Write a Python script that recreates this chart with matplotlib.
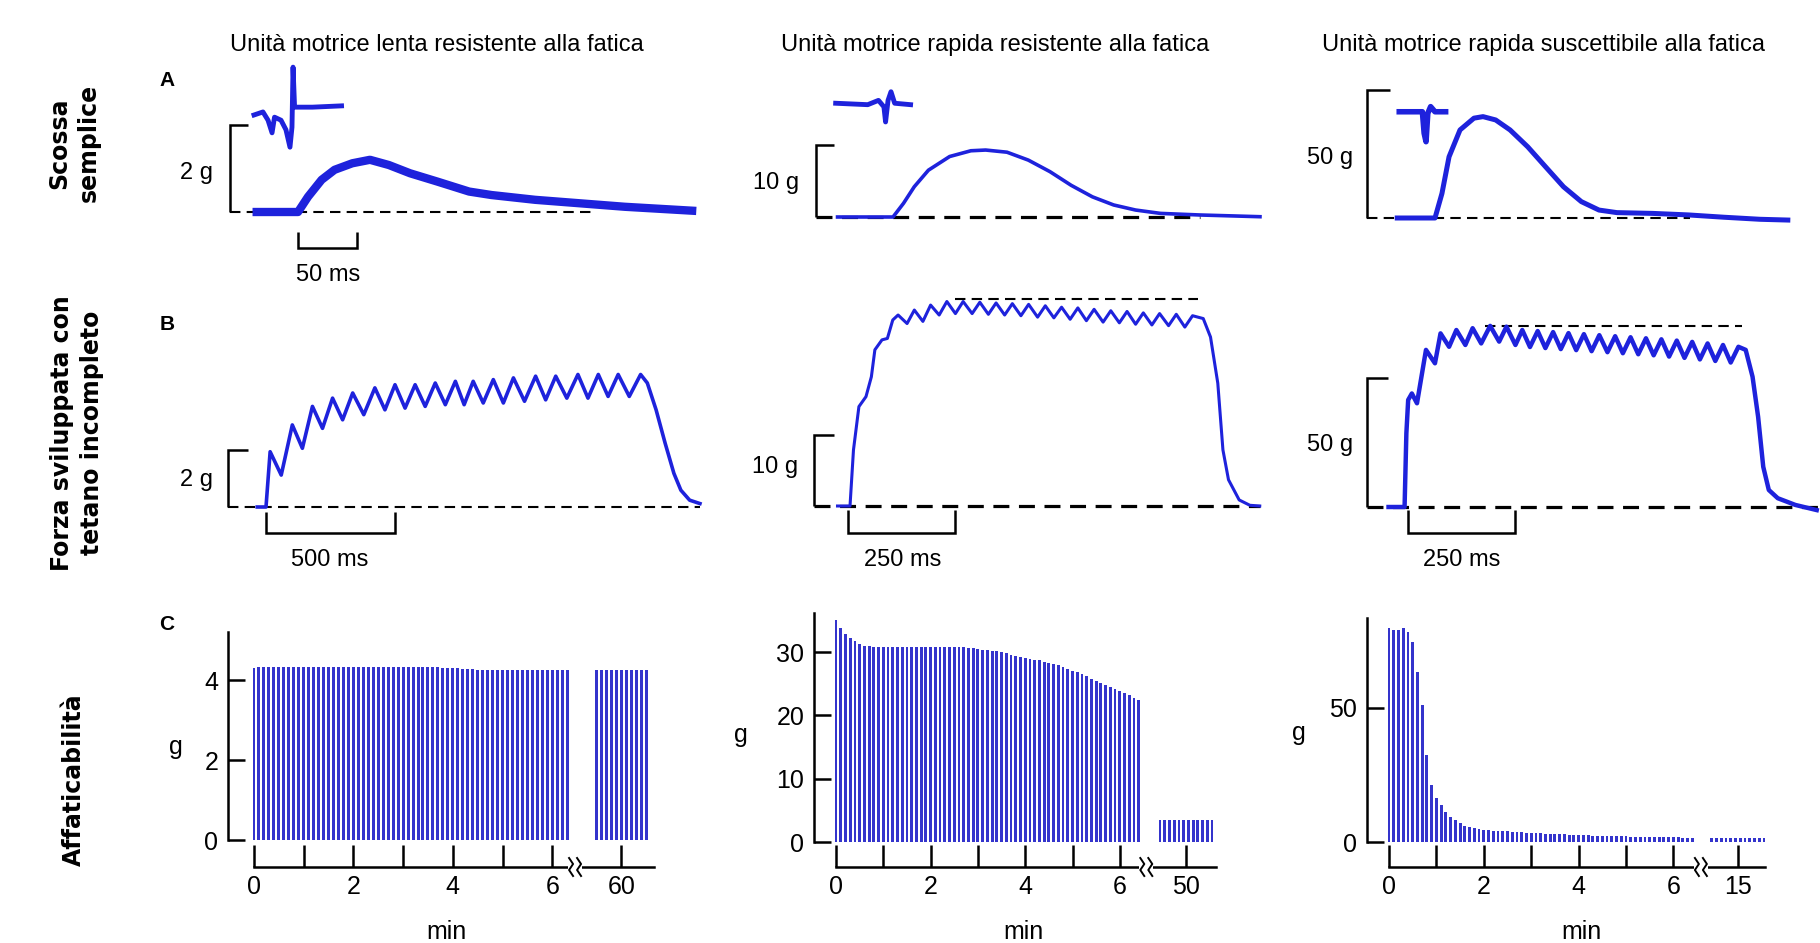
import numpy as np
import matplotlib
matplotlib.use("Agg")
import matplotlib.pyplot as plt

plt.rcParams["font.family"] = ["Liberation Sans", "DejaVu Sans"]

# ---- data ----
titles = [
    "Unità motrice lenta resistente alla fatica",
    "Unità motrice rapida resistente alla fatica",
    "Unità motrice rapida suscettibile alla fatica",
]
row_labels = ["Scossa\nsemplice", "Forza sviluppata con\ntetano incompleto", "Affaticabilità"]

# A: single twitch (t in ms, force in g)
a1_t = [-35, 0, 8.5, 20, 31, 46, 61, 77, 95, 118, 145, 164, 201, 239, 277, 315, 334]
a1_f = [0, 0, 0.35, 0.74, 0.97, 1.12, 1.2, 1.08, 0.89, 0.70, 0.47, 0.39, 0.28, 0.20, 0.12, 0.06, 0.03]
a1_ap_t = [-37.3, -29.7, -25.4, -22, -19.9, -14.4, -10.2, -6.8, -5.1, -4.2, -2.9, 12.3, 36.9]
a1_ap_f = [2.23, 2.30, 2.11, 1.82, 2.18, 2.11, 1.89, 1.49, 1.95, 3.33, 2.41, 2.41, 2.44]

a2_t = [-47, 0, 8.9, 18, 30, 48, 66, 78.5, 96.6, 114.7, 133, 151, 169, 187, 205.5, 226.7, 260, 290, 311]
a2_f = [0, 0, 1.9, 4.2, 6.5, 8.4, 9.2, 9.3, 9.0, 7.9, 6.3, 4.4, 2.8, 1.67, 0.97, 0.5, 0.28, 0.14, 0.04]
a2_ap_t = [-48.6, -21.4, -12.3, -7.7, -6.3, -4.2, -1.7, 1.4, 14.9]
a2_ap_f = [15.8, 15.6, 16.2, 15.3, 13.2, 16.2, 17.4, 15.8, 15.6]

a3_t = [-32, 0, 5.9, 11.9, 21.2, 33, 40.7, 51.4, 63.6, 78.6, 93.7, 108.9, 124, 139, 154.2,
        184.4, 214.7, 244.9, 275.3, 299]
a3_f = [0, 0, 9.6, 23.9, 34.4, 39, 39.6, 38.3, 34.4, 27.8, 20, 12.2, 6.4, 3.1, 2.1,
        1.8, 1.2, 0.3, -0.5, -0.8]
a3_ap_t = [-30.3, -10.7, -9.2, -7.6, -6.1, -3.7, 0, 9]
a3_ap_f = [41.5, 41.5, 33.1, 29.8, 40.9, 43.5, 41.5, 41.5]

# B: incomplete tetanus (onset, alternating peaks/troughs, relaxation)
b1_onset_t = [-34, 0]
b1_onset_f = [0, 0]
b1_peak_t = [16, 102, 180, 258, 336, 422, 500, 578, 656, 734, 803, 881, 959, 1045, 1123, 1209, 1288, 1365, 1452]
b1_peak_f = [1.94, 2.88, 3.53, 3.82, 4.0, 4.18, 4.29, 4.29, 4.35, 4.41, 4.41, 4.47, 4.53, 4.59, 4.59,
             4.65, 4.65, 4.65, 4.65]
b1_trough_t = [59, 141, 219, 297, 379, 461, 539, 617, 695, 768, 842, 920, 1002, 1084, 1166, 1248, 1326, 1408]
b1_trough_f = [1.12, 2.06, 2.76, 3.06, 3.24, 3.41, 3.47, 3.53, 3.59, 3.59, 3.65, 3.65, 3.71, 3.76,
               3.82, 3.82, 3.88, 3.88]
b1_decay_t = [1478, 1512, 1547, 1581, 1608, 1642, 1682]
b1_decay_f = [4.35, 3.41, 2.24, 1.18, 0.59, 0.24, 0.12]

b2_onset_t = [-24.5, 4.7, 12.8, 25.5, 42, 54.6, 62.8, 79.4, 92, 104.6]
b2_onset_f = [0, 0, 7.9, 14.0, 15.4, 18.2, 22.0, 23.4, 23.6, 26.2]
b2_peak_t = [117, 155, 193, 231, 269, 308, 346, 384, 422, 461, 499, 537, 575, 614, 652, 690, 728, 767, 805]
b2_peak_f = [26.9, 27.6, 28.3, 28.8, 28.8, 28.7, 28.6, 28.5, 28.4, 28.2, 28.0, 27.9, 27.7, 27.5,
             27.4, 27.2, 27.1, 27.0, 26.8]
b2_trough_t = [138, 175, 213, 251, 290, 328, 366, 404, 443, 481, 519, 557, 596, 634, 672, 710, 749, 787]
b2_trough_f = [25.7, 26.0, 26.9, 27.1, 27.1, 27.0, 26.9, 26.8, 26.6, 26.5, 26.3, 26.1, 25.9, 25.8,
               25.6, 25.5, 25.4, 25.2]
b2_decay_t = [830, 847, 864, 876, 889, 914, 939, 962]
b2_decay_f = [26.4, 23.8, 17.3, 7.9, 3.7, 0.85, 0.1, 0.0]
b2_plateau = 29.2

b3_onset_t = [-45.5, -8, -3.8, 0.4]
b3_onset_f = [0, 0, 28.6, 41.5]
b3_peak_t = [9, 42, 76, 113, 151, 192, 230, 267, 303, 339, 375, 411, 447, 484, 520, 556, 592, 628,
             664, 700, 736, 772]
b3_peak_f = [44.0, 60.9, 67.3, 68.6, 69.3, 70.2, 69.9, 68.6, 68.2, 67.8, 67.4, 67.0, 66.6, 66.2,
             65.8, 65.4, 65.0, 64.5, 64.0, 63.4, 62.8, 62.1]
b3_trough_t = [21, 63, 96, 134, 171, 213, 251, 285, 321, 357, 393, 429, 466, 502, 538, 574, 610,
               646, 682, 718, 754]
b3_trough_f = [40.2, 55.7, 62.1, 62.8, 63.4, 64.1, 62.8, 62.0, 61.6, 61.2, 60.8, 60.4, 60.0, 59.6,
               59.2, 58.8, 58.3, 57.8, 57.2, 56.6, 56.0]
b3_decay_t = [789, 805, 818, 830, 843, 864, 905, 955]
b3_decay_f = [60.9, 50.5, 35, 15.6, 6.6, 3.4, 0.8, -1.2]
b3_plateau = 70.2

# C: fatigue, one contraction every 0.1 min (force in g)
stim_min = 0.1
c1_main = [4.30, 4.33, 4.33, 4.33, 4.33, 4.33, 4.33, 4.33, 4.33, 4.33,
           4.33, 4.33, 4.33, 4.32, 4.32, 4.32, 4.32, 4.32, 4.32, 4.32,
           4.32, 4.32, 4.32, 4.32, 4.32, 4.32, 4.33, 4.33, 4.33, 4.33,
           4.33, 4.33, 4.33, 4.33, 4.33, 4.33, 4.32, 4.32, 4.30, 4.30,
           4.30, 4.30, 4.28, 4.28, 4.28, 4.26, 4.26, 4.26, 4.26, 4.26,
           4.26, 4.26, 4.26, 4.26, 4.26, 4.26, 4.26, 4.26, 4.26, 4.25,
           4.25, 4.25, 4.25, 4.25]
c1_late = [4.25, 4.25, 4.25, 4.25, 4.25, 4.25, 4.25, 4.25, 4.25, 4.25, 4.25]
c1_late_min = 60

c2_main = [35.0, 33.8, 32.8, 32.2, 31.7, 31.3, 31.0, 30.9, 30.8, 30.8,
           30.8, 30.8, 30.8, 30.8, 30.8, 30.8, 30.8, 30.8, 30.8, 30.8,
           30.8, 30.8, 30.8, 30.8, 30.8, 30.8, 30.8, 30.8, 30.7, 30.6,
           30.5, 30.4, 30.3, 30.2, 30.1, 30.0, 29.8, 29.6, 29.4, 29.2,
           29.0, 28.9, 28.8, 28.7, 28.5, 28.3, 28.1, 27.9, 27.6, 27.3,
           27.0, 26.8, 26.5, 26.2, 25.8, 25.5, 25.1, 24.8, 24.5, 24.2,
           23.9, 23.5, 23.2, 22.8, 22.4]
c2_late = [3.4, 3.4, 3.4, 3.4, 3.4, 3.4, 3.4, 3.4, 3.4, 3.4, 3.4, 3.4]
c2_late_min = 50

c3_main = [79.4, 78.8, 78.8, 79.4, 78.2, 74.5, 63.3, 50.9, 32.3, 21.2,
           16.4, 13.8, 11.3, 9.4, 8.2, 7.0, 5.9, 5.5, 5.1, 4.7,
           4.5, 4.3, 4.2, 4.2, 4.1, 4.0, 3.9, 3.8, 3.7, 3.5,
           3.4, 3.3, 3.2, 3.1, 3.0, 2.9, 2.9, 2.8, 2.7, 2.7,
           2.6, 2.5, 2.5, 2.4, 2.4, 2.3, 2.3, 2.2, 2.2, 2.1,
           2.1, 2.0, 2.0, 1.9, 1.9, 1.9, 1.8, 1.8, 1.8, 1.7,
           1.7, 1.7, 1.6, 1.6, 1.6]
c3_late = [1.4, 1.4, 1.4, 1.4, 1.4, 1.4, 1.4, 1.4, 1.4, 1.4, 1.4, 1.4]
c3_late_min = 15

# ---- drawing ----
W, H = 1820, 943
BLUE = "#1e22dc"
BAR_BLUE = "#3434cc"

fig = plt.figure(figsize=(W / 100, H / 100), dpi=100)
fig.patch.set_facecolor("white")


def px_axes(box, origin, scale):
    # box in pixels (left, top, right, bottom); origin = pixel of data (0, 0)
    l, t, r, b = box
    x0, y0 = origin
    sx, sy = scale
    ax = fig.add_axes([l / W, 1 - b / H, (r - l) / W, (b - t) / H])
    ax.set_xlim((l - x0) / sx, (r - x0) / sx)
    ax.set_ylim((y0 - b) / sy, (y0 - t) / sy)
    ax.patch.set_visible(False)
    return ax


def label(x, y, s, **kw):
    kw.setdefault("ha", "center")
    kw.setdefault("va", "center")
    fig.text(x / W, 1 - y / H, s, **kw)


def force_bar(ax, x, x_tick, h):
    ax.plot([x_tick, x, x], [h, h, 0], color="black", lw=1.8,
            solid_joinstyle="miter", solid_capstyle="butt")


def time_bar(ax, t1, y_top, y_bot):
    ax.plot([0, 0, t1, t1], [y_top, y_bot, y_bot, y_top], color="black", lw=1.8,
            solid_joinstyle="miter", solid_capstyle="butt")


def baseline(ax, x0, x1, y=0, lw=1.5):
    ax.plot([x0, x1], [y, y], color="black", lw=lw, dashes=(5, 3))


def tetanus(onset_t, onset_f, peak_t, peak_f, trough_t, trough_f, decay_t, decay_f):
    t, f = list(onset_t), list(onset_f)
    for i in range(len(peak_t)):
        t.append(peak_t[i]); f.append(peak_f[i])
        if i < len(trough_t):
            t.append(trough_t[i]); f.append(trough_f[i])
    return t + list(decay_t), f + list(decay_f)


# Row A
ax = px_axes((140, 55, 720, 300), (298, 212), (1.18, 43.5))
ax.axis("off")
baseline(ax, -57.6, 250.8)
force_bar(ax, -57.6, -42.4, 2)
time_bar(ax, 50, -0.46, -0.83)
ax.plot(a1_t, a1_f, color=BLUE, lw=6, solid_joinstyle="round")
ax.plot(a1_ap_t, a1_ap_f, color=BLUE, lw=3.5)

ax = px_axes((730, 55, 1275, 300), (893, 217), (1.18, 7.2))
ax.axis("off")
baseline(ax, -65, 260, lw=2.3)
force_bar(ax, -65, -50, 10)
ax.plot(a2_t, a2_f, color=BLUE, lw=2.6, solid_joinstyle="round")
ax.plot(a2_ap_t, a2_ap_f, color=BLUE, lw=3.5)

ax = px_axes((1290, 55, 1820, 300), (1435, 218), (1.18, 2.56))
ax.axis("off")
baseline(ax, -57.6, 216)
force_bar(ax, -57.6, -38, 50)
ax.plot(a3_t, a3_f, color=BLUE, lw=3.6, solid_joinstyle="round")
ax.plot(a3_ap_t, a3_ap_f, color=BLUE, lw=4)

# Row B
ax = px_axes((140, 300, 720, 590), (266, 507), (0.258, 28.5))
ax.axis("off")
baseline(ax, -147, 1682)
force_bar(ax, -147, -70, 2)
time_bar(ax, 500, -0.18, -0.91)
t, f = tetanus(b1_onset_t, b1_onset_f, b1_peak_t, b1_peak_f, b1_trough_t, b1_trough_f, b1_decay_t, b1_decay_f)
ax.plot(t, f, color=BLUE, lw=2.6)

ax = px_axes((730, 280, 1275, 590), (848, 506), (0.428, 7.1))
ax.axis("off")
baseline(ax, -79.4, 962, lw=2.3)
baseline(ax, 250, 818, y=b2_plateau)
force_bar(ax, -79.4, -32.7, 10)
time_bar(ax, 250, -0.56, -3.8)
t, f = tetanus(b2_onset_t, b2_onset_f, b2_peak_t, b2_peak_f, b2_trough_t, b2_trough_f, b2_decay_t, b2_decay_f)
ax.plot(t, f, color=BLUE, lw=2.2)

ax = px_axes((1290, 280, 1820, 590), (1408, 507), (0.428, 2.58))
ax.axis("off")
baseline(ax, -95.8, 962, lw=2.3)
baseline(ax, 180, 780, y=b3_plateau)
force_bar(ax, -95.8, -46.7, 50)
time_bar(ax, 250, -1.2, -10)
t, f = tetanus(b3_onset_t, b3_onset_f, b3_peak_t, b3_peak_f, b3_trough_t, b3_trough_f, b3_decay_t, b3_decay_f)
ax.plot(t, f, color=BLUE, lw=3.2)


# Row C
def fatigue(box, origin, scale, main, late, late_min, late_pos, break_pos, x_end, y_top, yticks):
    ax = px_axes(box, origin, scale)
    sx, sy = scale
    t_main = np.arange(len(main)) * stim_min
    ax.bar(t_main, main, width=0.06, color=BAR_BLUE, linewidth=0)
    t_late = late_min + (np.arange(len(late)) - (len(late) - 1) / 2) * stim_min
    ax.bar(late_pos + (t_late - late_min), late, width=0.06, color=BAR_BLUE, linewidth=0)
    for side in ("top", "right"):
        ax.spines[side].set_visible(False)
    ax.spines["left"].set_bounds(0, y_top)
    ax.spines["bottom"].set_bounds(0, x_end)
    for side in ("left", "bottom"):
        ax.spines[side].set_linewidth(1.8)
    ax.set_xticks([0, 1, 2, 3, 4, 5, 6, late_pos], ["0", "", "2", "", "4", "", "6", str(late_min)])
    ax.set_yticks(yticks, [str(v) for v in yticks])
    ax.tick_params(axis="x", direction="in", length=15.5, width=1.8, labelsize=18, pad=6)
    ax.tick_params(axis="y", direction="in", length=12.5, width=1.8, labelsize=18, pad=7)
    # axis break
    y0 = ax.get_ylim()[0]
    ax.plot([break_pos - 7 / sx, break_pos + 7 / sx], [y0, y0], color="white", lw=4,
            clip_on=False, zorder=4, solid_capstyle="butt")
    for off in (-4, 4):
        xs = [break_pos + (off + d) / sx for d in (-2, 2, -2, 2)]
        ys = [y0 - d / sy for d in (-9, -3, 3, 9)]
        ax.plot(xs, ys, color="black", lw=1.4, clip_on=False, zorder=5)
    return ax


fatigue((228, 600, 690, 867), (254, 840), (49.7, 40.0), c1_main, c1_late, c1_late_min,
        7.39, 6.46, 8.05, 5.2, [0, 2, 4])
fatigue((814, 600, 1250, 867), (836, 842), (47.3, 6.33), c2_main, c2_late, c2_late_min,
        7.4, 6.56, 8.03, 36.2, [0, 10, 20, 30])
fatigue((1367, 600, 1800, 867), (1389, 842), (47.4, 2.69), c3_main, c3_late, c3_late_min,
        7.36, 6.58, 7.93, 83.3, [0, 50])

# ---- text ----
for x, s in zip([437, 995, 1544], titles):
    label(x, 45, s, fontsize=17)
for y, s in zip([80, 325, 625], ["A", "B", "C"]):
    label(167, y, s, fontsize=15, fontweight="bold")

row_font = dict(fontsize=17, fontweight="bold", rotation=90, family="DejaVu Sans",
                multialignment="center", linespacing=1.3)
label(74, 143, row_labels[0], **row_font)
label(77, 433, row_labels[1], **row_font)
label(74, 780, row_labels[2], **row_font)

small = dict(fontsize=17)
label(196, 173, "2 g", **small)
label(328, 275, "50 ms", **small)
label(776, 183, "10 g", **small)
label(1330, 158, "50 g", **small)
label(196, 480, "2 g", **small)
label(330, 560, "500 ms", **small)
label(775, 467, "10 g", **small)
label(903, 560, "250 ms", **small)
label(1330, 445, "50 g", **small)
label(1462, 560, "250 ms", **small)
for x, y in [(176, 747), (741, 735), (1299, 733)]:
    label(x, y, "g", fontsize=18)
for x in [446, 1023, 1581]:
    label(x, 932, "min", fontsize=18)

fig.savefig("out.png", dpi=100, facecolor="white")
